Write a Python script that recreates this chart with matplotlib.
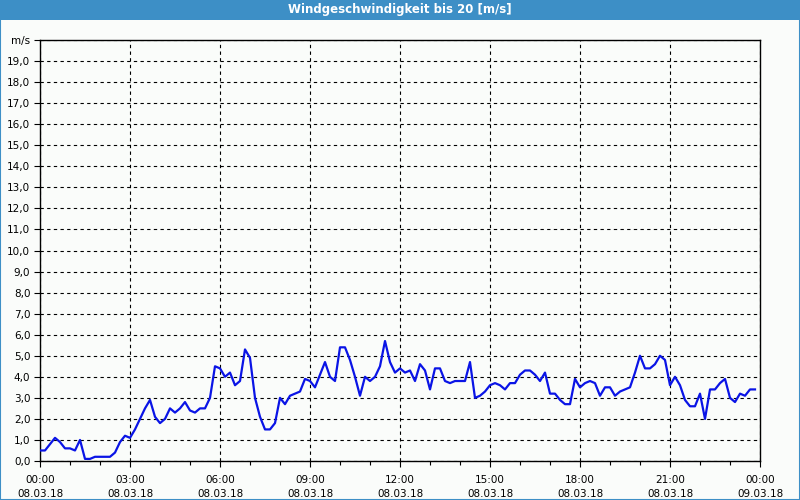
import matplotlib
matplotlib.use('Agg')
import matplotlib.pyplot as plt
from matplotlib.patches import Rectangle
from matplotlib.ticker import MultipleLocator, FixedLocator
import numpy as np

title = "Windgeschwindigkeit bis 20 [m/s]"
unit = "m/s"
step_min = 10  # Messintervall in Minuten

# Windgeschwindigkeit [m/s], 08.03.18 00:00 .. 23:50
wind = [
    0.5, 0.5, 0.8, 1.1, 0.9, 0.6, 0.6, 0.5, 1.0, 0.1, 0.1, 0.2,
    0.2, 0.2, 0.2, 0.4, 0.9, 1.2, 1.1, 1.5, 2.0, 2.5, 2.9, 2.1,
    1.8, 2.0, 2.5, 2.3, 2.5, 2.8, 2.4, 2.3, 2.5, 2.5, 3.0, 4.5,
    4.4, 4.0, 4.2, 3.6, 3.8, 5.3, 4.9, 3.0, 2.1, 1.5, 1.5, 1.8,
    3.0, 2.7, 3.1, 3.2, 3.3, 3.9, 3.8, 3.5, 4.1, 4.7, 4.0, 3.8,
    5.4, 5.4, 4.8, 4.0, 3.1, 4.0, 3.8, 4.0, 4.5, 5.7, 4.7, 4.2,
    4.4, 4.2, 4.3, 3.8, 4.6, 4.3, 3.4, 4.4, 4.4, 3.8, 3.7, 3.8,
    3.8, 3.8, 4.7, 3.0, 3.1, 3.3, 3.6, 3.7, 3.6, 3.4, 3.7, 3.7,
    4.1, 4.3, 4.3, 4.1, 3.8, 4.2, 3.2, 3.2, 2.9, 2.7, 2.7, 3.9,
    3.5, 3.7, 3.8, 3.7, 3.1, 3.5, 3.5, 3.1, 3.3, 3.4, 3.5, 4.2,
    5.0, 4.4, 4.4, 4.6, 5.0, 4.8, 3.6, 4.0, 3.6, 2.9, 2.6, 2.6,
    3.2, 2.0, 3.4, 3.4, 3.7, 3.9, 3.0, 2.8, 3.2, 3.1, 3.4, 3.4,
]
tick_hours = [0, 3, 6, 9, 12, 15, 18, 21, 24]
tick_times = ["00:00", "03:00", "06:00", "09:00", "12:00", "15:00", "18:00", "21:00", "00:00"]
tick_dates = ["08.03.18"] * 8 + ["09.03.18"]

bar_col = '#3d8fc6'
bg_col = '#fafcfa'

fig = plt.figure(figsize=(8, 5), dpi=100, facecolor=bg_col)
fig.patches.append(Rectangle((0, 0.96), 1, 0.04, transform=fig.transFigure,
                             facecolor=bar_col, edgecolor='none', zorder=0))
fig.patches.append(Rectangle((0.0006, 0.001), 0.9988, 0.998, transform=fig.transFigure,
                             facecolor='none', edgecolor=bar_col, linewidth=1.5, zorder=5))
fig.text(0.5, 0.98, title, color='white', fontsize=8.5, fontweight='bold',
         ha='center', va='center')

ax = fig.add_axes([0.05, 0.078, 0.9, 0.842])
ax.set_facecolor(bg_col)

hours = np.arange(len(wind)) * step_min / 60.0
ax.plot(hours, wind, color='#0a14e6', linewidth=1.6, zorder=3)

ax.set_xlim(0, 24)
ax.set_ylim(0, 20)

ax.xaxis.set_major_locator(FixedLocator(tick_hours))
ax.xaxis.set_minor_locator(MultipleLocator(1))
ax.set_xticklabels(["{}\n{}".format(t, d) for t, d in zip(tick_times, tick_dates)],
                   fontsize=7.5, linespacing=1.55)

yt = list(range(0, 21))
ax.yaxis.set_major_locator(FixedLocator(yt))
ax.set_yticklabels(["{},0".format(v) for v in yt[:-1]] + [unit], fontsize=7.5)

ax.tick_params(axis='both', which='major', length=4, width=0.8, direction='out', pad=3)
ax.tick_params(axis='x', which='minor', length=3, width=0.8)
ax.tick_params(axis='x', pad=6)

ax.grid(True, which='major', color='black', linestyle=(0, (3, 3)), linewidth=0.8)
for s in ax.spines.values():
    s.set_color('black')
    s.set_linewidth(1.0)

plt.savefig('out.png', dpi=100, facecolor=bg_col)
